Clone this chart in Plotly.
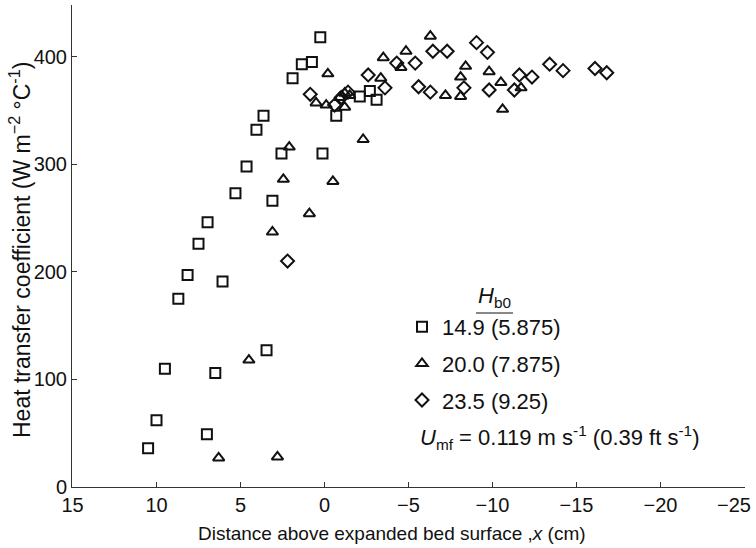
import plotly.graph_objects as go

# ---- data ----
sq_x = [10.5, 7.0, 10.0, 6.5, 9.5, 3.45, 8.7, 6.07, 8.15, 7.5, 6.96, 3.1, 5.3, 4.64,
        2.56, 0.12, 4.05, 3.63, 1.9, 1.35, 0.75, 0.25, -0.7, -2.1, -2.7, -3.1]
sq_y = [36, 49, 62, 106, 110, 127, 175, 191, 197, 226, 246, 266, 273, 298,
        310, 310, 332, 345, 380, 393, 395, 418, 345, 363, 368, 360]

tri_x = [6.3, 2.8, 4.5, 3.1, 0.9, -0.5, 2.45, 2.1, -2.3, -0.2, 0.5, -0.1, -0.9, -1.2,
         -1.5, -1.2, -3.5, -3.35, -4.55, -4.85, -6.3, -7.2, -8.1, -8.1, -8.4, -9.8,
         -10.5, -10.6, -11.7]
tri_y = [27, 28, 118, 237, 254, 284, 286, 316, 323, 384, 357, 355, 362, 366,
         364, 353, 399, 380, 390, 405, 419, 364, 363, 381, 391, 386,
         376, 351, 371]

dia_x = [2.2, 0.85, -0.6, -1.4, -1.0, -2.6, -3.6, -4.3, -5.4, -5.6, -6.3, -6.45,
         -7.3, -8.3, -9.05, -9.7, -9.8, -11.3, -11.6, -12.35, -13.4, -14.2, -16.1, -16.8]
dia_y = [210, 365, 355, 367, 362, 383, 371, 394, 394, 372, 367, 405,
         405, 371, 413, 404, 369, 369, 383, 381, 393, 387, 389, 385]

series_names = ["14.9 (5.875)", "20.0 (7.875)", "23.5 (9.25)"]
x_ticks = [15, 10, 5, 0, -5, -10, -15, -20, -25]
y_ticks = [0, 100, 200, 300, 400]

FONT = "Liberation Sans, Arial, Helvetica, sans-serif"
INK = "#111111"

# plot-area geometry helpers (pixels -> paper)
L, R, T, B = 72, 11, 5, 61
PW, PH = 756 - L - R, 548 - T - B


def px(x):
    return (x - L) / PW


def py(y):
    return 1 - (y - T) / PH


x_ticktext = [str(v).replace("-", "\u2212") for v in x_ticks]
# the last label sits at the page edge: draw it as a right-aligned annotation
last_label = x_ticktext[-1]
x_ticktext[-1] = ""

fig = go.Figure()
for xs, ys, sym, name, grp in [
    (sq_x, sq_y, "square-open", series_names[0], "a"),
    (tri_x, tri_y, "triangle-up-open", series_names[1], "b"),
    (dia_x, dia_y, "diamond-open", series_names[2], "c"),
]:
    fig.add_trace(go.Scatter(
        x=xs, y=ys, mode="markers", name=name, legendgroup=grp,
        marker=dict(symbol=sym, size=10, color=INK, line=dict(width=2, color=INK)),
    ))

fig.update_layout(
    template="none",
    width=756, height=548,
    margin=dict(l=L, r=R, t=T, b=B, autoexpand=False),
    paper_bgcolor="white", plot_bgcolor="white",
    font=dict(family=FONT, size=20, color=INK),
    showlegend=True,
    legend=dict(
        x=px(402), y=py(306), xanchor="left", yanchor="top",
        font=dict(family=FONT, size=22, color=INK),
        itemwidth=30, tracegroupgap=5, bgcolor="rgba(0,0,0,0)",
        traceorder="grouped",
    ),
    xaxis=dict(
        range=[15.03, -25.03], tickmode="array", tickvals=x_ticks,
        ticktext=x_ticktext,
        ticks="inside", ticklen=5, tickcolor="#333",
        showline=True, linecolor="#333", linewidth=1,
        showgrid=False, zeroline=False, ticklabeloverflow="allow",
        automargin=False,
        tickfont=dict(family=FONT, size=20, color=INK),
    ),
    yaxis=dict(
        range=[0, 448], tickmode="array", tickvals=y_ticks,
        ticks="inside", ticklen=5, tickcolor="#333",
        showline=True, linecolor="#333", linewidth=1,
        showgrid=False, zeroline=False, automargin=False,
        tickfont=dict(family=FONT, size=20, color=INK),
    ),
)

annotations = [
    dict(text=last_label, x=px(753), y=py(505), xref="paper", yref="paper",
         xanchor="right", yanchor="middle", showarrow=False,
         font=dict(family=FONT, size=20, color=INK)),
    dict(text="Distance above expanded bed surface ,<i>x</i> (cm)",
         x=px(392), y=py(533), xref="paper", yref="paper",
         xanchor="center", yanchor="middle", showarrow=False,
         font=dict(family=FONT, size=19, color=INK)),
    dict(text="Heat transfer coefficient (W m<sup>\u22122</sup> \u00b0C<sup>-1</sup>)",
         x=px(20), y=py(250), xref="paper", yref="paper", textangle=-90,
         xanchor="center", yanchor="middle", showarrow=False,
         font=dict(family=FONT, size=23, color=INK)),
    dict(text="<i>H</i><sub>b0</sub>",
         x=px(494), y=py(297), xref="paper", yref="paper",
         xanchor="center", yanchor="middle", showarrow=False,
         font=dict(family=FONT, size=22, color=INK)),
    dict(text="<i>U</i><sub>mf</sub> = 0.119 m s<sup>-1</sup> (0.39 ft s<sup>-1</sup>)",
         x=px(418), y=py(437), xref="paper", yref="paper",
         xanchor="left", yanchor="middle", showarrow=False,
         font=dict(family=FONT, size=22, color=INK)),
]
fig.update_layout(annotations=annotations)
fig.add_shape(type="line", xref="paper", yref="paper",
              x0=px(476), x1=px(513), y0=py(313), y1=py(313),
              line=dict(color=INK, width=1))

fig.write_html("out.html")
